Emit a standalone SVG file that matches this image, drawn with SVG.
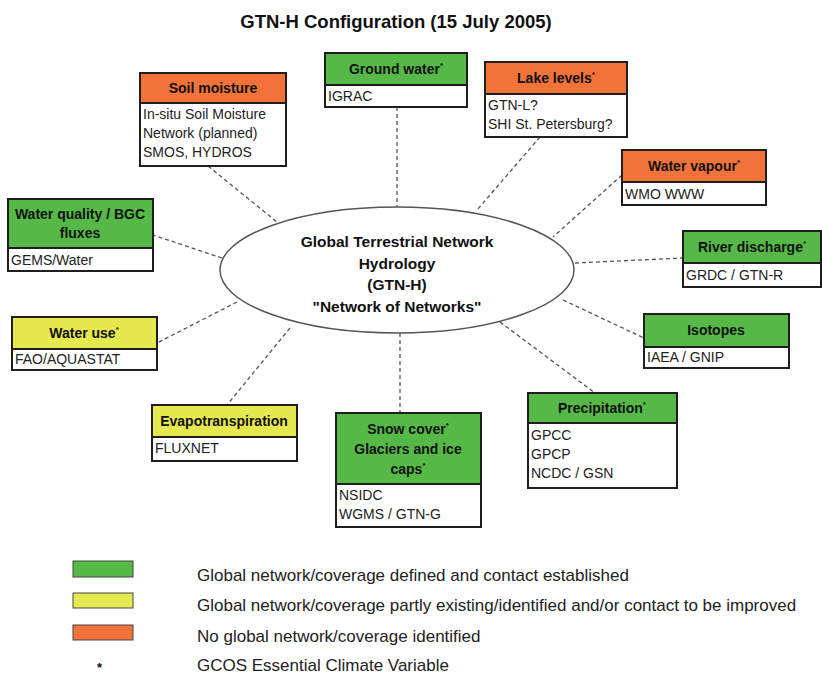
<svg xmlns="http://www.w3.org/2000/svg" width="822" height="675" viewBox="0 0 822 675">
  <style>
    text { font-family: "Liberation Sans", Arial, sans-serif; fill: #111; }
    .title { font-size: 18.5px; font-weight: bold; }
    .hd { font-size: 14px; font-weight: bold; text-anchor: middle; }
    .bd { font-size: 14px; fill: #222; }
    .core { font-size: 15.5px; font-weight: bold; text-anchor: middle; }
    .leg { font-size: 17px; fill: #222; }
    .box { fill: #fff; stroke: #1e1e1e; stroke-width: 2; }
    .g { fill: #56b947; stroke: #1e1e1e; stroke-width: 2; }
    .y { fill: #e6e84f; stroke: #1e1e1e; stroke-width: 2; }
    .o { fill: #f1733a; stroke: #1e1e1e; stroke-width: 2; }
    .lg { stroke: #444; stroke-width: 1; }
    .link { stroke: #555; stroke-width: 1.3; stroke-dasharray: 4 3; fill: none; }
  </style>

  <rect width="822" height="675" fill="#fff"/>

  <text class="title" x="396" y="28" text-anchor="middle">GTN-H Configuration (15 July 2005)</text>

  <!-- dashed links from the hub to each network -->
  <g id="connectors">
    <line class="link" x1="208" y1="166" x2="277" y2="222"/>
    <line class="link" x1="397" y1="107" x2="397" y2="207"/>
    <line class="link" x1="540" y1="137" x2="477" y2="210"/>
    <line class="link" x1="622" y1="175" x2="553" y2="237"/>
    <line class="link" x1="575" y1="263" x2="683" y2="258"/>
    <line class="link" x1="563" y1="300" x2="644" y2="338"/>
    <line class="link" x1="500" y1="322" x2="595" y2="393"/>
    <line class="link" x1="400" y1="333" x2="400" y2="413"/>
    <line class="link" x1="290" y1="328" x2="227" y2="405"/>
    <line class="link" x1="237" y1="302" x2="157" y2="343"/>
    <line class="link" x1="222" y1="258" x2="153" y2="235"/>
  </g>

  <!-- central hub -->
  <g id="hub">
    <ellipse cx="397" cy="270" rx="177" ry="63" fill="#fff" stroke="#555" stroke-width="1.5"/>
    <text class="core" x="397" y="247">Global Terrestrial Network</text>
    <text class="core" x="397" y="269">Hydrology</text>
    <text class="core" x="397" y="290">(GTN-H)</text>
    <text class="core" x="397" y="312">"Network of Networks"</text>
  </g>

  <g id="soil-moisture">
    <rect class="box" x="140" y="73" width="146" height="93"/>
    <rect class="o" x="140" y="73" width="146" height="30"/>
    <text class="hd" x="213" y="93">Soil moisture</text>
    <text class="bd" x="143" y="119">In-situ Soil Moisture</text>
    <text class="bd" x="143" y="138">Network (planned)</text>
    <text class="bd" x="143" y="157">SMOS, HYDROS</text>
  </g>

  <g id="ground-water">
    <rect class="box" x="325" y="53" width="142" height="54"/>
    <rect class="g" x="325" y="53" width="142" height="32"/>
    <text class="hd" x="396" y="74">Ground water<tspan font-size="8" dy="-6">*</tspan></text>
    <text class="bd" x="328" y="101">IGRAC</text>
  </g>

  <g id="lake-levels">
    <rect class="box" x="485" y="62" width="142" height="75"/>
    <rect class="o" x="485" y="62" width="142" height="32"/>
    <text class="hd" x="556" y="83">Lake levels<tspan font-size="8" dy="-6">*</tspan></text>
    <text class="bd" x="488" y="110">GTN-L?</text>
    <text class="bd" x="488" y="129">SHI St. Petersburg?</text>
  </g>

  <g id="water-vapour">
    <rect class="box" x="622" y="150" width="144" height="55"/>
    <rect class="o" x="622" y="150" width="144" height="32"/>
    <text class="hd" x="694" y="171">Water vapour<tspan font-size="8" dy="-6">*</tspan></text>
    <text class="bd" x="625" y="199">WMO WWW</text>
  </g>

  <g id="river-discharge">
    <rect class="box" x="683" y="231" width="138" height="56"/>
    <rect class="g" x="683" y="231" width="138" height="32"/>
    <text class="hd" x="752" y="252">River discharge<tspan font-size="8" dy="-6">*</tspan></text>
    <text class="bd" x="686" y="280">GRDC / GTN-R</text>
  </g>

  <g id="isotopes">
    <rect class="box" x="644" y="314" width="145" height="54"/>
    <rect class="g" x="644" y="314" width="145" height="33"/>
    <text class="hd" x="716" y="335">Isotopes</text>
    <text class="bd" x="647" y="362">IAEA / GNIP</text>
  </g>

  <g id="precipitation">
    <rect class="box" x="528" y="393" width="149" height="95"/>
    <rect class="g" x="528" y="393" width="149" height="30"/>
    <text class="hd" x="602" y="413">Precipitation<tspan font-size="8" dy="-6">*</tspan></text>
    <text class="bd" x="531" y="440">GPCC</text>
    <text class="bd" x="531" y="459">GPCP</text>
    <text class="bd" x="531" y="478">NCDC / GSN</text>
  </g>

  <g id="snow-cover">
    <rect class="box" x="336" y="413" width="145" height="114"/>
    <rect class="g" x="336" y="413" width="145" height="71"/>
    <text class="hd" x="408" y="434">Snow cover<tspan font-size="8" dy="-6">*</tspan></text>
    <text class="hd" x="408" y="454">Glaciers and ice</text>
    <text class="hd" x="408" y="474">caps<tspan font-size="8" dy="-6">*</tspan></text>
    <text class="bd" x="339" y="500">NSIDC</text>
    <text class="bd" x="339" y="519">WGMS / GTN-G</text>
  </g>

  <g id="evapotranspiration">
    <rect class="box" x="152" y="405" width="145" height="56"/>
    <rect class="y" x="152" y="405" width="145" height="32"/>
    <text class="hd" x="224" y="426">Evapotranspiration</text>
    <text class="bd" x="155" y="453">FLUXNET</text>
  </g>

  <g id="water-use">
    <rect class="box" x="12" y="317" width="145" height="53"/>
    <rect class="y" x="12" y="317" width="145" height="32"/>
    <text class="hd" x="84" y="338">Water use<tspan font-size="8" dy="-6">*</tspan></text>
    <text class="bd" x="15" y="364">FAO/AQUASTAT</text>
  </g>

  <g id="water-quality">
    <rect class="box" x="8" y="199" width="145" height="72"/>
    <rect class="g" x="8" y="199" width="145" height="49"/>
    <text class="hd" x="80" y="219">Water quality / BGC</text>
    <text class="hd" x="80" y="238">fluxes</text>
    <text class="bd" x="11" y="265">GEMS/Water</text>
  </g>

  <!-- legend -->
  <g id="legend">
    <rect class="g lg" x="73" y="561" width="60" height="16"/>
    <text class="leg" x="197" y="581">Global network/coverage defined and contact established</text>
    <rect class="y lg" x="73" y="593" width="60" height="15"/>
    <text class="leg" x="197" y="611">Global network/coverage partly existing/identified and/or contact to be improved</text>
    <rect class="o lg" x="73" y="625" width="60" height="15"/>
    <text class="leg" x="197" y="642">No global network/coverage identified</text>
    <text x="97" y="672" font-size="13" font-weight="bold" fill="#222">*</text>
    <text class="leg" x="197" y="671">GCOS Essential Climate Variable</text>
  </g>
</svg>
